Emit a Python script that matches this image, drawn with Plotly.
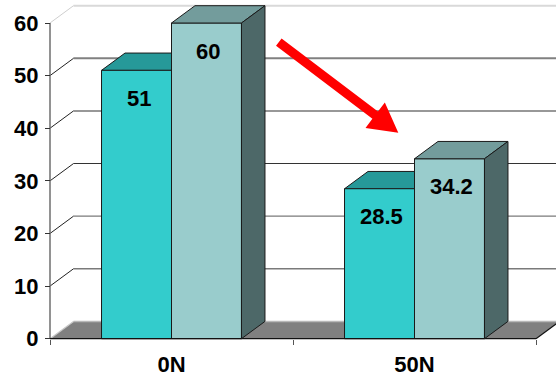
import numpy as np
import plotly.graph_objects as go

# ---- data ----
categories = ["0N", "50N"]
series_a = [51, 28.5]
series_b = [60, 34.2]
y_ticks = [0, 10, 20, 30, 40, 50, 60]

# ---- styling ----
FONT = "Liberation Sans, Arial, sans-serif"
FRONT = ["#33CCCC", "#99CCCC"]
TOP = ["#269999", "#739C9C"]
SIDE = "#4D6868"
EDGE = "#1a1a1a"
FLOOR = "#808080"

# plot-area geometry (pixels)
W, H = 556, 376
ML, MR, MT, MB = 44, 0, 0, 32
PW, PH = W - ML - MR, H - MT - MB
PX_PER_CAT = 243.0          # pixels per category slot
PX_PER_UNIT = 5.2617        # pixels per y unit
X0_PX = 6.0                 # axis line offset from plot-area left
Y0_PX = 5.3                 # y=0 offset from plot-area bottom

x_lo = -0.5 - X0_PX / PX_PER_CAT
x_hi = x_lo + PW / PX_PER_CAT
y_lo = -Y0_PX / PX_PER_UNIT
y_hi = y_lo + PH / PX_PER_UNIT

# 3-D depth offset of the back plane
DX = 23.5 / PX_PER_CAT
DY = 17.3 / PX_PER_UNIT

BARGAP = 0.424
GROUP_W = 1 - BARGAP
BAR_W = GROUP_W / 2

fig = go.Figure()
for vals, col, name in [(series_a, FRONT[0], "A"), (series_b, FRONT[1], "B")]:
    fig.add_trace(go.Bar(
        x=categories, y=vals, name=name, marker_color=col,
        marker_line=dict(color=EDGE, width=1), hoverinfo="skip",
    ))

shapes = []


def poly(pts, fill, line_color=EDGE, width=1, layer="above"):
    d = "M " + " L ".join(f"{x},{y}" for x, y in pts) + " Z"
    return dict(type="path", path=d, xref="x", yref="y", fillcolor=fill,
                line=dict(color=line_color, width=width), layer=layer)


def seg(x0, y0, x1, y1, color, width=1, layer="below"):
    return dict(type="line", x0=x0, y0=y0, x1=x1, y1=y1, xref="x", yref="y",
                line=dict(color=color, width=width), layer=layer)


# floor
shapes.append(poly([(-0.5, 0), (1.5, 0), (1.5 + DX, DY), (-0.5 + DX, DY)],
                   FLOOR, line_color=FLOOR, width=0, layer="below"))
shapes.append(seg(-0.5 + DX, DY, x_hi + 0.2, DY, "#b8b8b8", 1.5))
shapes.append(seg(-0.5, 0, -0.5 + DX, DY, "#c8c8c8", 1.2))

# back-wall gridlines and left-wall diagonals
grid_style = {10: ("#7a7a7a", 1.4), 20: ("#7a7a7a", 1.4), 30: ("#333333", 1.1),
              40: ("#333333", 1.1), 50: ("#808080", 2.0), 60: ("#d9d9d9", 2.0)}
for v in y_ticks[1:]:
    c, w = grid_style[v]
    shapes.append(seg(-0.5 + DX, v + DY, x_hi + 0.2, v + DY, c, w))
    diag_c = "#cfcfcf" if v == 60 else "#222222"
    shapes.append(seg(-0.5, v, -0.5 + DX, v + DY, diag_c, 1))

# y-axis line and floor front / right edges
shapes.append(seg(-0.5, 0, -0.5, y_ticks[-1], "#6e6e6e", 1.5))
shapes.append(seg(-0.5, 0, 1.5, 0, "#111111", 1.3, layer="above"))
shapes.append(seg(1.5, 0, 1.5 + DX, DY, "#111111", 1.1, layer="above"))

# 3-D top and side faces of each bar
for i in range(len(categories)):
    left = i - GROUP_W / 2
    for j, vals in enumerate([series_a, series_b]):
        v = vals[i]
        xa, xb = left + j * BAR_W, left + (j + 1) * BAR_W
        layer = "below" if j == 0 else "above"
        shapes.append(poly([(xa, v), (xb, v), (xb + DX, v + DY), (xa + DX, v + DY)],
                           TOP[j], layer=layer))
        if j == 1:
            shapes.append(poly([(xb, 0), (xb + DX, DY), (xb + DX, v + DY), (xb, v)],
                               SIDE, layer="above"))

# red arrow (pixel geometry converted to paper coordinates)
tail = np.array([278.8, 42.2])
tip = np.array([398.3, 132.7])
u = (tip - tail) / np.linalg.norm(tip - tail)
n = np.array([-u[1], u[0]])
base = tip - 29 * u
arrow_px = [tail + 4.6 * n, base + 4.6 * n, base + 16 * n, tip,
            base - 16 * n, base - 4.6 * n, tail - 4.6 * n]
arrow_path = "M " + " L ".join(
    f"{(p[0] - ML) / PW:.5f},{(MT + PH - p[1]) / PH:.5f}" for p in arrow_px) + " Z"
shapes.append(dict(type="path", path=arrow_path, xref="paper", yref="paper",
                   fillcolor="#FF0000", line=dict(width=0), layer="above"))

# value labels inside the bars
annotations = []
for i in range(len(categories)):
    left = i - GROUP_W / 2
    for j, vals in enumerate([series_a, series_b]):
        annotations.append(dict(
            x=left + (j + 0.5) * BAR_W, y=vals[i], xref="x", yref="y",
            text=f"{vals[i]:g}", showarrow=False, yanchor="middle",
            xshift=2, yshift=-28,
            font=dict(family=FONT, size=22, color="#000000", weight="bold")))

fig.update_layout(
    template="none",
    width=W, height=H,
    margin=dict(l=ML, r=MR, t=MT, b=MB, pad=0),
    paper_bgcolor="white", plot_bgcolor="white",
    barmode="group", bargap=BARGAP, bargroupgap=0,
    showlegend=False,
    shapes=shapes, annotations=annotations,
    xaxis=dict(
        type="category", range=[x_lo, x_hi], anchor="free",
        position=Y0_PX / PH, showgrid=False, zeroline=False, showline=False,
        tickson="boundaries", ticks="outside", ticklen=5, tickwidth=1,
        tickcolor="#555555", ticklabelstandoff=10,
        tickfont=dict(family=FONT, size=22, color="#000000", weight="bold"),
        automargin=False, fixedrange=True,
    ),
    yaxis=dict(
        range=[y_lo, y_hi], anchor="free", position=X0_PX / PW,
        tickvals=y_ticks, showgrid=False, zeroline=False, showline=False,
        ticks="outside", ticklen=5, tickwidth=1.2, tickcolor="#333333",
        ticklabelstandoff=2,
        tickfont=dict(family=FONT, size=22, color="#000000", weight="bold"),
        automargin=False, fixedrange=True,
    ),
)

fig.write_html("out.html", config={"displayModeBar": False})
